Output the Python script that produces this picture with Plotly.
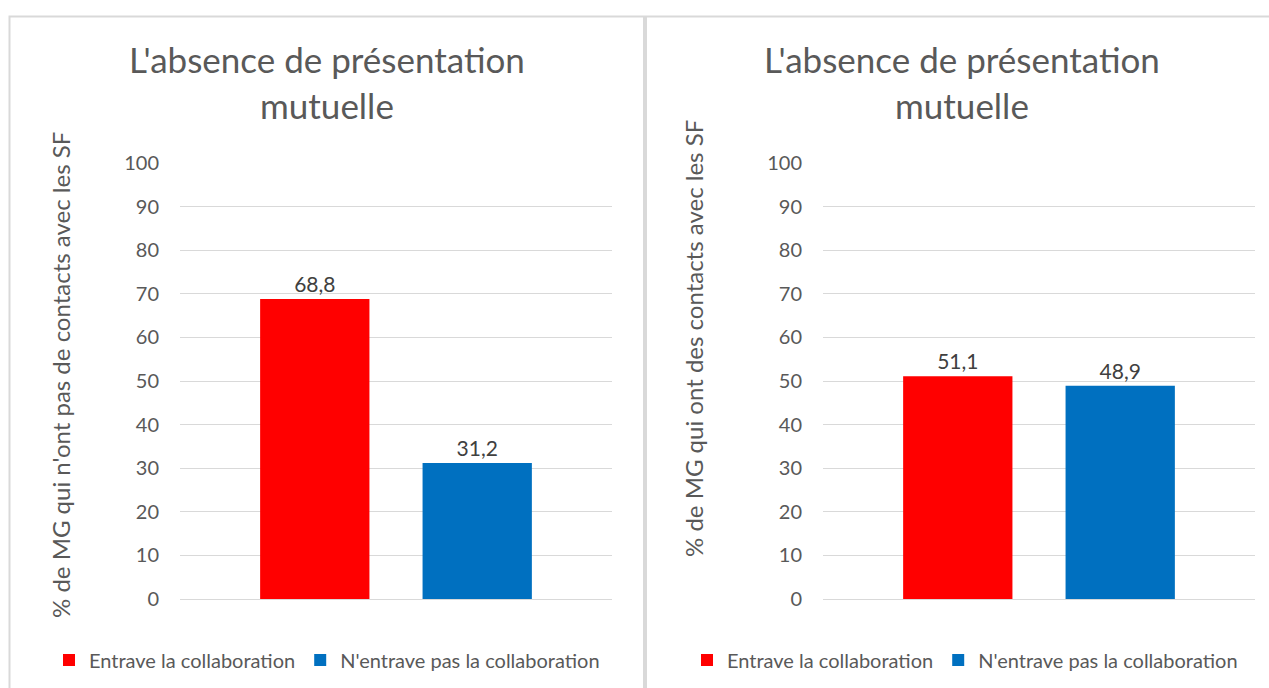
import plotly.graph_objects as go

# ---- data ----
categories = ["L'absence de présentation mutuelle"]
series_names = ["Entrave la collaboration", "N'entrave pas la collaboration"]
series_colors = ["#FF0000", "#0070C0"]
sans_contacts = [68.8, 31.2]   # % de MG qui n'ont pas de contacts avec les SF
avec_contacts = [51.1, 48.9]   # % de MG qui ont des contacts avec les SF
panel_title = "L'absence de présentation<br>mutuelle"
y_titles = ["% de MG qui n'ont pas de contacts avec les SF",
            "% de MG qui ont des contacts avec les SF"]
y_ticks = [0, 10, 20, 30, 40, 50, 60, 70, 80, 90, 100]

W, H = 1269, 688
def px(x):
    return x / W
def py(y):
    return 1 - y / H

FONT = "Lato"
GRAY = "#595959"
GRID = "#D9D9D9"

fig = go.Figure()

panels = [
    dict(values=sans_contacts, xaxis="x", yaxis="y", legend="legend"),
    dict(values=avec_contacts, xaxis="x2", yaxis="y2", legend="legend2"),
]

for p in panels:
    for name, color, v in zip(series_names, series_colors, p["values"]):
        fig.add_trace(go.Bar(
            x=categories, y=[v], name=name,
            marker=dict(color=color, line=dict(width=0)),
            texttemplate="%{y:.1f}", textposition="outside",
            textfont=dict(family=FONT, size=21, color="#404040"),
            xaxis=p["xaxis"], yaxis=p["yaxis"], legend=p["legend"],
            hoverinfo="skip",
        ))

axis_common = dict(showticklabels=False, showgrid=False, zeroline=False,
                   showline=False, ticks="")
yaxis_common = dict(range=[0, 100], tickvals=y_ticks, showgrid=True,
                    gridcolor=GRID, gridwidth=1.3, zeroline=True,
                    zerolinecolor=GRID, zerolinewidth=1.3, showline=False,
                    ticks="", ticklabelstandoff=20,
                    tickfont=dict(family=FONT, size=20, color=GRAY))

legend_font = dict(family=FONT, size=20, color=GRAY)

fig.update_layout(
    width=W, height=H,
    margin=dict(l=0, r=0, t=0, b=0, autoexpand=False),
    paper_bgcolor="white", plot_bgcolor="white",
    separators=", ",
    barmode="group", bargap=0.248, bargroupgap=0.327,
    xaxis=dict(domain=[px(180), px(612)], **axis_common),
    xaxis2=dict(domain=[px(823), px(1255)], **axis_common),
    yaxis=dict(domain=[py(599), py(163)], anchor="x", **yaxis_common),
    yaxis2=dict(domain=[py(599), py(163)], anchor="x2", **yaxis_common),
    legend=dict(orientation="h", x=px(49), y=py(660), xanchor="left",
                yanchor="middle", font=legend_font, bgcolor="rgba(0,0,0,0)"),
    legend2=dict(orientation="h", x=px(687), y=py(660), xanchor="left",
                 yanchor="middle", font=legend_font, bgcolor="rgba(0,0,0,0)"),
    showlegend=True,
)

# titles
for cx in (327, 962):
    fig.add_annotation(text=panel_title, xref="paper", yref="paper",
                       x=px(cx), y=py(82), xanchor="center", yanchor="middle",
                       showarrow=False,
                       font=dict(family=FONT, size=35, color=GRAY))

# y-axis titles
for cx, cy, t in ((60, 375, y_titles[0]), (693, 339, y_titles[1])):
    fig.add_annotation(text=t, xref="paper", yref="paper",
                       x=px(cx), y=py(cy), xanchor="center", yanchor="middle",
                       textangle=-90, showarrow=False,
                       font=dict(family=FONT, size=24, color=GRAY))

# panel borders
fig.add_shape(type="rect", xref="paper", yref="paper",
              x0=px(9.5), x1=px(644), y0=py(700), y1=py(16.5),
              line=dict(color=GRID, width=2), layer="below")
fig.add_shape(type="rect", xref="paper", yref="paper",
              x0=px(646), x1=px(1280), y0=py(700), y1=py(16.5),
              line=dict(color=GRID, width=2), layer="below")

fig.write_html("out.html", config={"displayModeBar": False},
               post_script="document.body.style.margin='0';")
